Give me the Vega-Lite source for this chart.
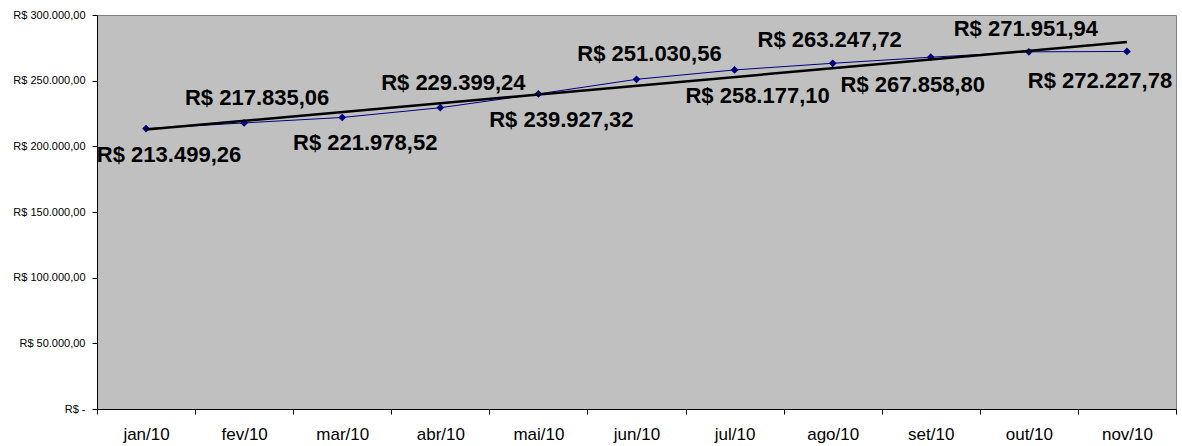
{
  "$schema": "https://vega.github.io/schema/vega-lite/v6.json",
  "width": 1079,
  "height": 394,
  "autosize": {"type": "none"},
  "padding": {"left": 97, "top": 15, "right": 6, "bottom": 37},
  "background": "white",
  "config": {
    "locale": {
      "number": {"decimal": ",", "thousands": ".", "grouping": [3], "currency": ["R$ ", ""]}
    },
    "font": "Liberation Sans",
    "view": {"fill": "#C0C0C0", "stroke": "#808080", "strokeWidth": 1}
  },
  "datasets": {
    "sales": [
      {"month": "jan/10", "n": 1, "v": 213499.26},
      {"month": "fev/10", "n": 2, "v": 217835.06},
      {"month": "mar/10", "n": 3, "v": 221978.52},
      {"month": "abr/10", "n": 4, "v": 229399.24},
      {"month": "mai/10", "n": 5, "v": 239927.32},
      {"month": "jun/10", "n": 6, "v": 251030.56},
      {"month": "jul/10", "n": 7, "v": 258177.10},
      {"month": "ago/10", "n": 8, "v": 263247.72},
      {"month": "set/10", "n": 9, "v": 267858.80},
      {"month": "out/10", "n": 10, "v": 271951.94},
      {"month": "nov/10", "n": 11, "v": 272227.78}
    ]
  },
  "data": {"name": "sales"},
  "encoding": {
    "x": {
      "field": "month",
      "type": "ordinal",
      "sort": null,
      "bandPosition": 0.5,
      "scale": {
        "type": "band",
        "paddingInner": 0,
        "paddingOuter": 0,
        "domain": ["jan/10", "fev/10", "mar/10", "abr/10", "mai/10", "jun/10", "jul/10", "ago/10", "set/10", "out/10", "nov/10"]
      },
      "axis": {
        "title": null,
        "tickBand": "extent",
        "labelAngle": 0,
        "labelFontSize": 17,
        "labelColor": "black",
        "domainColor": "black",
        "tickColor": "black",
        "tickSize": 5,
        "labelPadding": 12,
        "grid": false
      }
    },
    "y": {
      "field": "v",
      "type": "quantitative",
      "scale": {"domain": [0, 300000], "nice": false, "zero": true},
      "axis": {
        "title": null,
        "values": [0, 50000, 100000, 150000, 200000, 250000, 300000],
        "format": "$,.2f",
        "labelExpr": "datum.value == 0 ? 'R$ -' : datum.label",
        "labelFontSize": 11,
        "labelColor": "black",
        "domainColor": "black",
        "tickColor": "black",
        "tickSize": 5,
        "labelPadding": 7,
        "grid": false
      }
    }
  },
  "layer": [
    {"mark": {"type": "line", "color": "#000080", "strokeWidth": 1}},
    {"mark": {"type": "point", "shape": "diamond", "filled": true, "color": "#000080", "size": 60, "opacity": 1}},
    {
      "transform": [
        {"regression": "v", "on": "n"},
        {"lookup": "n", "from": {"data": {"name": "sales"}, "key": "n", "fields": ["month"]}}
      ],
      "mark": {"type": "line", "color": "black", "strokeWidth": 2.5}
    },
    {
      "transform": [{"filter": {"field": "month", "oneOf": ["jan/10", "mar/10", "mai/10", "jul/10"]}}],
      "mark": {"type": "text", "fontSize": 22, "fontWeight": "bold", "color": "black", "dx": 23, "dy": 26},
      "encoding": {"text": {"field": "v", "type": "quantitative", "format": "$,.2f"}}
    },
    {
      "transform": [{"filter": {"field": "month", "equal": "set/10"}}],
      "mark": {"type": "text", "fontSize": 22, "fontWeight": "bold", "color": "black", "dx": -18, "dy": 28},
      "encoding": {"text": {"field": "v", "type": "quantitative", "format": "$,.2f"}}
    },
    {
      "transform": [{"filter": {"field": "month", "equal": "nov/10"}}],
      "mark": {"type": "text", "fontSize": 22, "fontWeight": "bold", "color": "black", "dx": -27, "dy": 30},
      "encoding": {"text": {"field": "v", "type": "quantitative", "format": "$,.2f"}}
    },
    {
      "transform": [{"filter": {"field": "month", "oneOf": ["fev/10", "abr/10", "jun/10"]}}],
      "mark": {"type": "text", "fontSize": 22, "fontWeight": "bold", "color": "black", "dx": 13, "dy": -25},
      "encoding": {"text": {"field": "v", "type": "quantitative", "format": "$,.2f"}}
    },
    {
      "transform": [{"filter": {"field": "month", "oneOf": ["ago/10", "out/10"]}}],
      "mark": {"type": "text", "fontSize": 22, "fontWeight": "bold", "color": "black", "dx": -3, "dy": -23},
      "encoding": {"text": {"field": "v", "type": "quantitative", "format": "$,.2f"}}
    }
  ]
}
